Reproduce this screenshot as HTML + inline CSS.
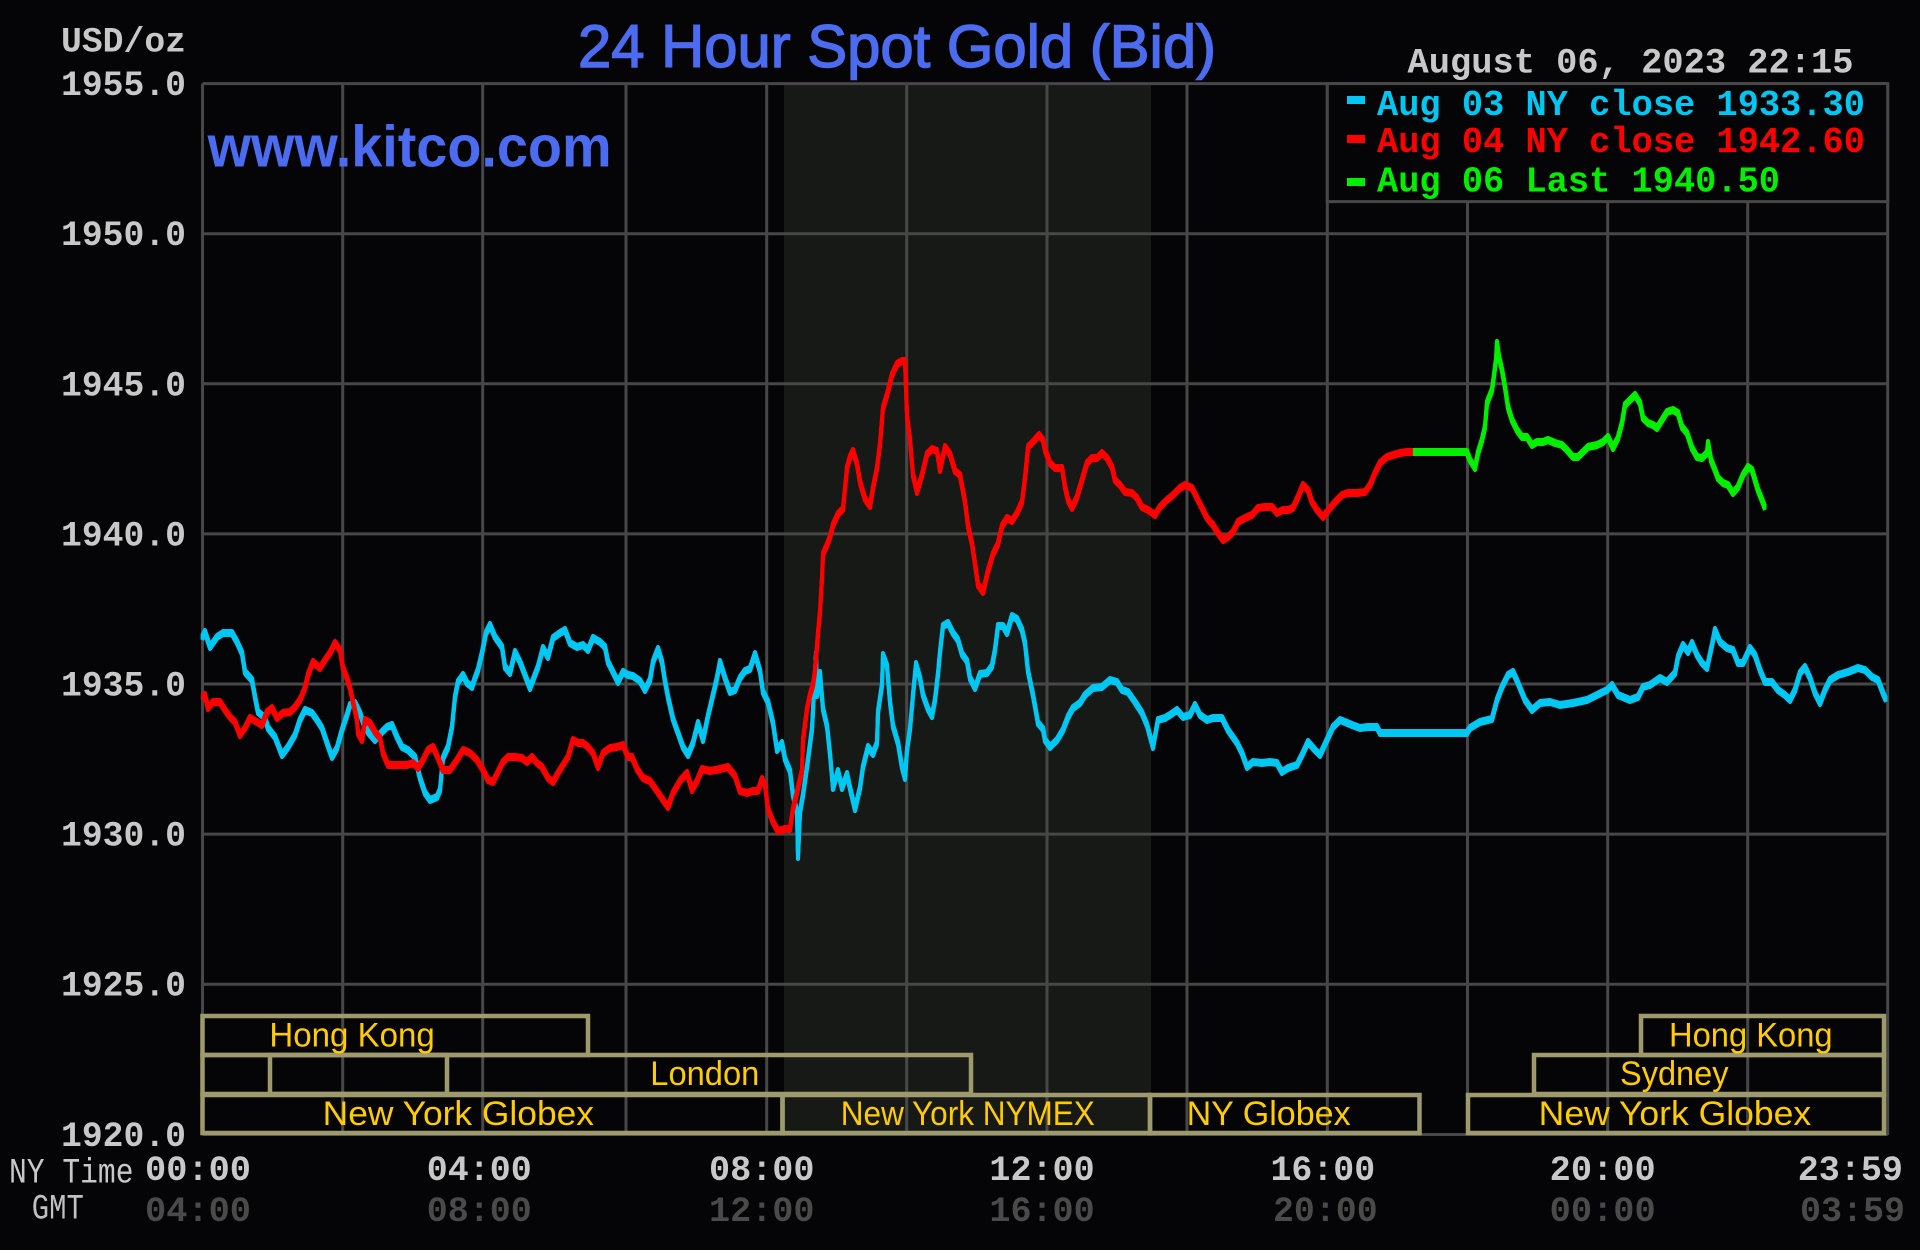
<!DOCTYPE html>
<html>
<head>
<meta charset="utf-8">
<style>
html,body{margin:0;padding:0;background:#050507;}
svg{display:block;}
.ax{font-family:"Liberation Mono",monospace;font-weight:bold;fill:#c8c8c8;font-size:35px;}
.gm{font-family:"Liberation Mono",monospace;font-weight:bold;fill:#4a4a4a;font-size:35px;}
.ss{font-family:"Liberation Sans",sans-serif;fill:#ffcc00;font-size:34px;}
.lg{font-family:"Liberation Mono",monospace;font-weight:bold;font-size:36px;}
</style>
</head>
<body>
<svg width="1920" height="1250" viewBox="0 0 1920 1250" xmlns="http://www.w3.org/2000/svg">
<defs>
<polyline id="cy" fill="none" stroke="#00c8f2" stroke-width="4" stroke-linejoin="round" points="202,638 205,632 210,647 217,637 223,633 232,633 237,642 242,653 245,672 252,680 255,697 258,712 265,718 268,728 275,737 282,755 288,747 295,735 300,720 305,710 312,713 317,720 322,728 327,743 332,757 337,748 342,730 347,715 350,705 355,703 360,713 363,722 368,732 375,740 382,732 387,727 392,725 397,737 402,747 408,750 415,757 420,778 425,793 430,800 437,797 440,790 443,758 448,747 452,727 455,697 458,682 463,675 467,683 472,687 475,678 478,670 482,653 486,633 490,625 495,637 502,647 505,667 510,673 515,652 520,662 525,675 530,688 533,680 538,667 543,648 548,657 553,638 560,633 565,630 570,643 577,647 583,645 588,650 593,638 600,642 605,647 608,662 613,672 618,682 623,672 628,675 633,676 640,681 645,690 650,680 653,662 658,649 662,662 665,681 668,697 673,719 678,733 683,747 688,755 693,743 698,723 703,740 708,716 713,695 717,678 720,662 725,678 730,692 735,690 740,678 745,671 750,669 755,654 760,671 763,692 768,702 773,723 777,750 782,743 785,759 790,771 793,795 797,812 798,857 800,812 803,795 807,767 812,729 815,674 816,654 817,695 820,673 823,709 827,726 830,754 833,788 838,771 842,788 847,774 850,788 855,809 860,788 863,767 868,747 873,754 877,743 878,712 882,685 883,655 887,666 890,702 893,726 898,743 902,767 905,778 907,750 910,729 913,695 916,664 920,678 923,695 928,709 932,716 935,700 938,674 940,652 943,626 948,623 953,633 958,640 962,654 967,661 970,678 975,688 980,674 987,673 992,666 995,650 998,626 1003,626 1007,633 1012,616 1017,619 1022,630 1025,643 1028,671 1033,695 1038,723 1043,729 1045,740 1050,747 1057,740 1063,730 1068,717 1073,708 1080,703 1085,695 1093,688 1102,687 1110,680 1117,682 1122,690 1128,692 1135,702 1142,713 1147,725 1153,747 1158,720 1165,718 1170,715 1177,710 1183,717 1190,715 1195,705 1200,715 1207,720 1213,718 1222,718 1228,730 1237,743 1242,753 1247,767 1253,762 1262,763 1270,762 1277,763 1282,772 1288,768 1297,765 1303,753 1308,742 1315,750 1320,755 1327,740 1333,727 1340,720 1345,722 1352,725 1360,728 1368,727 1377,727 1380,733 1467,733 1470,728 1480,722 1492,719 1497,700 1502,687 1508,675 1513,672 1518,683 1525,700 1532,710 1540,703 1550,702 1560,705 1573,703 1587,700 1597,695 1607,690 1612,685 1618,695 1630,700 1638,697 1643,687 1650,685 1660,678 1667,682 1675,673 1678,657 1683,645 1688,652 1692,643 1697,655 1702,663 1707,668 1712,645 1715,630 1720,642 1727,648 1733,650 1738,663 1743,663 1750,648 1755,655 1760,670 1765,682 1772,682 1778,690 1785,695 1790,700 1795,690 1800,673 1805,667 1810,678 1815,693 1820,703 1825,690 1830,680 1838,675 1848,672 1858,668 1865,670 1872,677 1878,680 1883,693 1886,700"/>
<polyline id="rd" fill="none" stroke="#ff0000" stroke-width="4" stroke-linejoin="round" points="202,698 205,695 208,708 213,702 220,702 225,710 230,717 235,722 240,735 245,728 250,718 257,722 262,725 267,712 272,708 277,718 283,713 290,712 295,707 300,700 305,688 308,675 313,662 320,668 325,660 330,653 335,643 340,650 343,668 347,678 350,688 353,702 357,720 358,733 362,740 365,720 370,723 375,732 380,738 383,753 388,765 397,765 407,765 413,763 418,768 423,760 428,750 433,747 438,758 443,770 450,770 457,760 463,750 470,753 477,760 483,770 488,780 493,782 498,772 503,762 508,757 515,757 522,758 527,762 532,757 537,763 542,767 548,778 553,782 558,773 563,765 568,757 573,740 578,743 583,743 588,747 593,753 598,767 603,753 610,748 617,747 623,745 628,757 632,757 637,769 643,778 650,781 657,791 663,800 668,807 673,793 680,781 687,773 692,790 697,781 702,769 710,771 720,769 728,767 735,776 740,791 747,793 753,791 758,791 762,779 765,785 768,809 773,822 778,831 785,829 790,829 793,809 798,788 802,771 803,740 807,709 810,695 813,685 815,671 818,633 820,612 822,578 823,554 827,545 830,537 833,525 838,514 843,509 847,468 850,457 853,451 857,464 860,482 865,499 870,506 873,488 877,468 880,444 883,408 887,395 892,375 897,364 902,361 905,361 907,416 910,440 913,475 917,492 922,475 927,454 932,449 937,451 940,470 945,447 950,454 955,471 960,475 965,502 968,526 972,544 975,564 978,585 983,592 988,571 993,554 998,544 1002,526 1007,518 1012,521 1017,513 1022,502 1025,478 1028,447 1033,442 1039,435 1043,440 1045,450 1050,463 1055,468 1062,468 1065,487 1068,500 1072,508 1077,497 1082,480 1087,463 1092,458 1097,458 1102,453 1107,458 1112,467 1115,480 1120,485 1125,492 1132,493 1137,498 1142,507 1148,510 1155,515 1160,507 1167,500 1173,495 1180,488 1185,485 1192,488 1197,498 1202,508 1207,518 1213,525 1218,533 1223,540 1228,537 1233,532 1238,522 1245,518 1252,515 1258,508 1265,507 1272,507 1277,513 1283,510 1288,510 1293,508 1298,497 1303,485 1308,490 1312,502 1317,510 1323,517 1330,508 1337,500 1342,495 1348,493 1357,493 1365,492 1370,485 1375,473 1380,463 1387,457 1393,455 1400,453 1407,452 1413,452"/>
<polyline id="gr" fill="none" stroke="#00f000" stroke-width="4" stroke-linejoin="round" points="1413,452 1467,452 1470,460 1475,468 1478,453 1482,440 1485,427 1487,403 1492,390 1493,383 1496,360 1497,343 1499,357 1502,370 1505,387 1508,407 1512,420 1517,430 1522,437 1527,437 1532,445 1537,442 1543,442 1548,440 1555,443 1562,445 1567,450 1573,457 1578,457 1583,452 1588,447 1597,445 1603,442 1608,437 1613,448 1618,438 1622,423 1625,405 1630,400 1635,395 1640,403 1643,418 1648,423 1653,425 1657,428 1662,420 1667,412 1673,410 1678,413 1682,427 1687,433 1692,448 1697,457 1702,458 1707,453 1708,443 1711,460 1715,470 1718,478 1723,483 1728,485 1733,493 1738,487 1743,475 1748,467 1752,470 1755,480 1758,490 1762,500 1765,508"/>
</defs>

<rect x="0" y="0" width="1920" height="1250" fill="#050507"/>

<rect x="784" y="84" width="367" height="1050" fill="#171917"/>

<g stroke="#474747" stroke-width="3">
<line x1="202.5" y1="83.6" x2="1887.7" y2="83.6"/>
<line x1="202.5" y1="233.7" x2="1887.7" y2="233.7"/>
<line x1="202.5" y1="383.8" x2="1887.7" y2="383.8"/>
<line x1="202.5" y1="533.9" x2="1887.7" y2="533.9"/>
<line x1="202.5" y1="684" x2="1887.7" y2="684"/>
<line x1="202.5" y1="834.1" x2="1887.7" y2="834.1"/>
<line x1="202.5" y1="984.2" x2="1887.7" y2="984.2"/>
<line x1="202.5" y1="1134.5" x2="1887.7" y2="1134.5"/>
<line x1="202.5" y1="83.6" x2="202.5" y2="1135"/>
<line x1="342.7" y1="83.6" x2="342.7" y2="1135"/>
<line x1="482.7" y1="83.6" x2="482.7" y2="1135"/>
<line x1="626" y1="83.6" x2="626" y2="1135"/>
<line x1="766.7" y1="83.6" x2="766.7" y2="1135"/>
<line x1="906.7" y1="83.6" x2="906.7" y2="1135"/>
<line x1="1047" y1="83.6" x2="1047" y2="1135"/>
<line x1="1187" y1="83.6" x2="1187" y2="1135"/>
<line x1="1327.3" y1="83.6" x2="1327.3" y2="1135"/>
<line x1="1467.5" y1="83.6" x2="1467.5" y2="1135"/>
<line x1="1607.7" y1="83.6" x2="1607.7" y2="1135"/>
<line x1="1747.7" y1="83.6" x2="1747.7" y2="1135"/>
<line x1="1887.7" y1="83.6" x2="1887.7" y2="1135"/>
</g>

<g fill="none" stroke="#9e9a6c" stroke-width="4.5">
<rect x="202.5" y="1016" width="385.5" height="39"/>
<rect x="1641" y="1016" width="243" height="39"/>
<rect x="202.5" y="1055" width="768.5" height="39"/>
<rect x="270" y="1055" width="177" height="39"/>
<rect x="1534" y="1055" width="350" height="39"/>
<rect x="202.5" y="1095" width="580" height="38"/>
<rect x="782.5" y="1095" width="367.5" height="38"/>
<rect x="1150" y="1095" width="269.5" height="38"/>
<rect x="1468" y="1095" width="416" height="38"/>
</g>

<text class="ss" x="269.4" y="1046.7" textLength="165.4" lengthAdjust="spacingAndGlyphs">Hong Kong</text>
<text class="ss" x="1669" y="1046.7" textLength="163.6" lengthAdjust="spacingAndGlyphs">Hong Kong</text>
<text class="ss" x="650.3" y="1085" textLength="109" lengthAdjust="spacingAndGlyphs">London</text>
<text class="ss" x="1620" y="1085" textLength="108.5" lengthAdjust="spacingAndGlyphs">Sydney</text>
<text class="ss" x="322.7" y="1125" textLength="271.3" lengthAdjust="spacingAndGlyphs">New York Globex</text>
<text class="ss" x="840.8" y="1125" textLength="254" lengthAdjust="spacingAndGlyphs">New York NYMEX</text>
<text class="ss" x="1186.6" y="1125" textLength="164" lengthAdjust="spacingAndGlyphs">NY Globex</text>
<text class="ss" x="1538.7" y="1125" textLength="272.5" lengthAdjust="spacingAndGlyphs">New York Globex</text>

<use href="#cy" transform="translate(0,-2)"/>
<use href="#cy" transform="translate(0,2)"/>
<use href="#cy"/>
<use href="#rd" transform="translate(0,-2)"/>
<use href="#rd" transform="translate(0,2)"/>
<use href="#rd"/>
<use href="#gr" transform="translate(0,-2)"/>
<use href="#gr" transform="translate(0,2)"/>
<use href="#gr"/>

<rect x="1327.3" y="83.6" width="560.4" height="118" fill="#050507" stroke="#474747" stroke-width="3"/>
<rect x="1347" y="96" width="18" height="8" fill="#00c8f2"/>
<rect x="1347" y="135" width="18" height="8" fill="#ff0000"/>
<rect x="1347" y="178" width="18" height="8" fill="#00f000"/>
<text class="lg" x="1377" y="115" fill="#00c8f2" textLength="488" lengthAdjust="spacingAndGlyphs">Aug 03 NY close 1933.30</text>
<text class="lg" x="1377" y="152" fill="#ff0000" textLength="488" lengthAdjust="spacingAndGlyphs">Aug 04 NY close 1942.60</text>
<text class="lg" x="1377" y="191.7" fill="#00f000" textLength="403" lengthAdjust="spacingAndGlyphs">Aug 06 Last 1940.50</text>

<text x="578" y="67" font-family="'Liberation Sans',sans-serif" font-size="60" fill="#4b6cf0" stroke="#4b6cf0" stroke-width="1.4" textLength="638" lengthAdjust="spacingAndGlyphs">24 Hour Spot Gold (Bid)</text>
<text x="207.6" y="166.7" font-family="'Liberation Sans',sans-serif" font-weight="bold" font-size="58" fill="#4b6cf0" textLength="404" lengthAdjust="spacingAndGlyphs">www.kitco.com</text>

<text class="ax" x="61" y="51.7" textLength="125" lengthAdjust="spacingAndGlyphs">USD/oz</text>
<text class="ax" x="1407.5" y="72.7" textLength="446" lengthAdjust="spacingAndGlyphs">August 06, 2023 22:15</text>

<text class="ax" x="61" y="95.1" textLength="125" lengthAdjust="spacingAndGlyphs">1955.0</text>
<text class="ax" x="61" y="245.2" textLength="125" lengthAdjust="spacingAndGlyphs">1950.0</text>
<text class="ax" x="61" y="395.3" textLength="125" lengthAdjust="spacingAndGlyphs">1945.0</text>
<text class="ax" x="61" y="545.4" textLength="125" lengthAdjust="spacingAndGlyphs">1940.0</text>
<text class="ax" x="61" y="695.5" textLength="125" lengthAdjust="spacingAndGlyphs">1935.0</text>
<text class="ax" x="61" y="845.6" textLength="125" lengthAdjust="spacingAndGlyphs">1930.0</text>
<text class="ax" x="61" y="995.7" textLength="125" lengthAdjust="spacingAndGlyphs">1925.0</text>
<text class="ax" x="61" y="1146" textLength="125" lengthAdjust="spacingAndGlyphs">1920.0</text>

<text x="9" y="1182.7" font-family="'Liberation Mono',monospace" font-size="35" fill="#c8c8c8" textLength="124.5" lengthAdjust="spacingAndGlyphs">NY Time</text>
<text class="ax" x="145" y="1180" textLength="106" lengthAdjust="spacingAndGlyphs">00:00</text>
<text class="ax" x="426.8" y="1180" textLength="105" lengthAdjust="spacingAndGlyphs">04:00</text>
<text class="ax" x="709" y="1180" textLength="105.5" lengthAdjust="spacingAndGlyphs">08:00</text>
<text class="ax" x="989.4" y="1180" textLength="105.3" lengthAdjust="spacingAndGlyphs">12:00</text>
<text class="ax" x="1270.5" y="1180" textLength="104.7" lengthAdjust="spacingAndGlyphs">16:00</text>
<text class="ax" x="1549.7" y="1180" textLength="106" lengthAdjust="spacingAndGlyphs">20:00</text>
<text class="ax" x="1797.7" y="1180" textLength="105.3" lengthAdjust="spacingAndGlyphs">23:59</text>

<text x="31.8" y="1218.3" font-family="'Liberation Mono',monospace" font-size="35" fill="#c0c0c0" textLength="52" lengthAdjust="spacingAndGlyphs">GMT</text>
<text class="gm" x="145" y="1221" textLength="106" lengthAdjust="spacingAndGlyphs">04:00</text>
<text class="gm" x="426.8" y="1221" textLength="105" lengthAdjust="spacingAndGlyphs">08:00</text>
<text class="gm" x="709" y="1221" textLength="105.5" lengthAdjust="spacingAndGlyphs">12:00</text>
<text class="gm" x="989.4" y="1221" textLength="105.3" lengthAdjust="spacingAndGlyphs">16:00</text>
<text class="gm" x="1273" y="1221" textLength="104.7" lengthAdjust="spacingAndGlyphs">20:00</text>
<text class="gm" x="1549.7" y="1221" textLength="106" lengthAdjust="spacingAndGlyphs">00:00</text>
<text class="gm" x="1800" y="1221" textLength="105" lengthAdjust="spacingAndGlyphs">03:59</text>
</svg>
</body>
</html>
